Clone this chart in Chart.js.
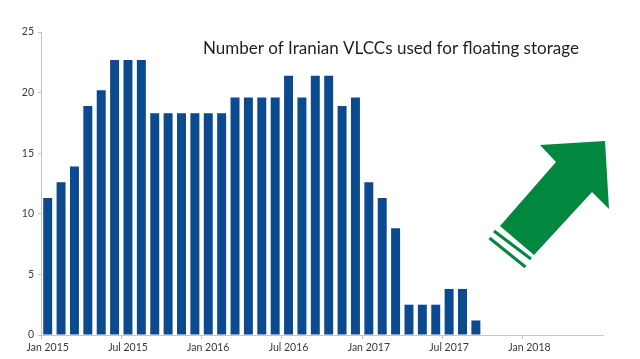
<!DOCTYPE html>
<html>
<head>
<meta charset="utf-8">
<script src="https://cdn.jsdelivr.net/npm/chart.js@4/dist/chart.umd.min.js"></script>
<style>
html,body{margin:0;padding:0;background:#fff;}
#wrap{width:640px;height:359px;position:relative;}
</style>
</head>
<body>
<div id="wrap"><canvas id="c" width="640" height="359"></canvas></div>
<script>
const months = ['Jan','Feb','Mar','Apr','May','Jun','Jul','Aug','Sep','Oct','Nov','Dec'];
const years = [2015, 2016, 2017, 2018];
const categories = [];
for (const y of years) for (const m of months) { if (categories.length < 42) categories.push(m + ' ' + y); }
const vlccCounts = [11.3, 12.6, 13.9, 18.9, 20.2, 22.7, 22.7, 22.7, 18.3, 18.3, 18.3, 18.3,
                    18.3, 18.3, 19.6, 19.6, 19.6, 19.6, 21.4, 19.6, 21.4, 21.4, 18.9, 19.6,
                    12.6, 11.3, 8.8, 2.5, 2.5, 2.5, 3.8, 3.8, 1.2];
const yTicks = [0, 5, 10, 15, 20, 25];
const titleText = 'Number of Iranian VLCCs used for floating storage';

const decor = {
  id: 'decor',
  afterDraw(chart) {
    const ctx = chart.ctx;
    ctx.save();
    ctx.fillStyle = '#1f1f1f';
    ctx.font = '17px Lato';
    ctx.textBaseline = 'alphabetic';
    ctx.textAlign = 'left';
    ctx.fillText(titleText, 203, 54);
    // green arrow
    ctx.fillStyle = '#02873f';
    ctx.beginPath();
    ctx.moveTo(605, 141);
    ctx.lineTo(609, 209);
    ctx.lineTo(592, 192);
    ctx.lineTo(534, 255);
    ctx.lineTo(500, 226);
    ctx.lineTo(556, 162);
    ctx.lineTo(540, 145);
    ctx.closePath();
    ctx.fill();
    ctx.strokeStyle = '#02873f';
    ctx.lineWidth = 3;
    ctx.beginPath();
    ctx.moveTo(494, 231); ctx.lineTo(531, 259);
    ctx.moveTo(489.5, 238); ctx.lineTo(525.5, 267);
    ctx.stroke();
    ctx.restore();
  }
};

new Chart(document.getElementById('c'), {
  type: 'bar',
  data: {
    labels: categories,
    datasets: [{
      data: vlccCounts,
      backgroundColor: '#0b4a8f',
      borderWidth: 0,
      categoryPercentage: 1.0,
      barPercentage: 0.67
    }]
  },
  options: {
    responsive: false,
    animation: false,
    events: [],
    layout: { padding: { left: 0, right: 37, top: 32, bottom: 0 } },
    plugins: { legend: { display: false }, title: { display: false }, tooltip: { enabled: false } },
    scales: {
      x: {
        offset: true,
        grid: {
          offset: true,
          drawOnChartArea: false,
          drawTicks: true,
          tickLength: 4,
          tickColor: (c) => (c.index % 6 === 0 ? '#cbbfae' : 'rgba(0,0,0,0)')
        },
        border: { color: '#cfc6ba', width: 1 },
        ticks: {
          autoSkip: false,
          maxRotation: 0,
          minRotation: 0,
          padding: 2,
          color: '#3a3a3a',
          font: { family: 'Lato', size: 10.5 },
          callback: (v, i) => (i % 6 === 0 ? categories[i] : '')
        },
        afterFit: (s) => { s.height = 24; }
      },
      y: {
        min: 0,
        max: 25,
        afterBuildTicks: (s) => { s.ticks = yTicks.map(v => ({ value: v })); },
        grid: {
          drawOnChartArea: false,
          drawTicks: true,
          tickLength: 3,
          tickColor: '#c4c4c4'
        },
        border: { color: '#c4c4c4', width: 1 },
        ticks: {
          padding: 4,
          color: '#3a3a3a',
          font: { family: 'Lato', size: 10.5 }
        },
        afterFit: (s) => { s.width = 41; }
      }
    }
  },
  plugins: [decor]
});
</script>
</body>
</html>
